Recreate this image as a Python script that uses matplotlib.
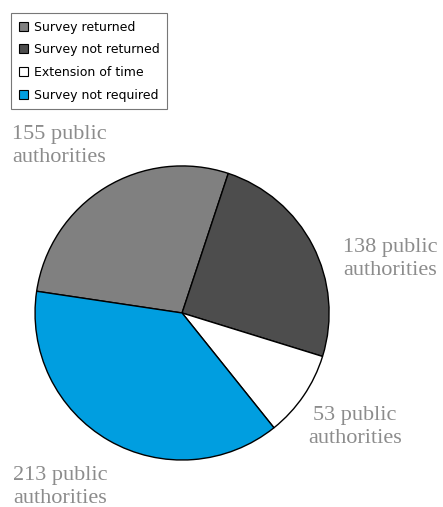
import matplotlib.pyplot as plt
from matplotlib.patches import Patch

# data
categories = ['Survey returned', 'Survey not returned', 'Extension of time', 'Survey not required']
counts = [155, 138, 53, 213]
colors = ['#808080', '#4d4d4d', '#ffffff', '#009ee0']
label_texts = ['155 public\nauthorities', '138 public\nauthorities',
               '53 public\nauthorities', '213 public\nauthorities']

fig = plt.figure(figsize=(4.43, 5.07), dpi=100)
ax = fig.add_axes([0.079, 0.0927, 0.664, 0.580])

ax.pie(counts, colors=colors, startangle=171.5, counterclock=False,
       wedgeprops=dict(edgecolor='black', linewidth=1.0))
ax.set_xlim(-1, 1)
ax.set_ylim(-1, 1)
ax.set_aspect('equal')

# slice labels, placed outside the pie
label_pos = [(59, 146), (390, 259), (355, 427), (60, 487)]
for txt, (px, py) in zip(label_texts, label_pos):
    fig.text(px / 443, 1 - py / 507, txt, ha='center', va='center',
             multialignment='center', family='Liberation Serif',
             fontsize=16, color='#8c8c8c', linespacing=1.3)

handles = [Patch(facecolor=c, edgecolor='black', linewidth=0.8) for c in colors]
leg = fig.legend(handles, categories, loc='upper left',
                 bbox_to_anchor=(11 / 443, 1 - 13 / 507),
                 fontsize=9, frameon=True, fancybox=False,
                 handlelength=0.75, handleheight=0.75, handletextpad=0.45,
                 labelspacing=0.78, borderpad=0.6, borderaxespad=0)
leg.get_frame().set_edgecolor('#555555')
leg.get_frame().set_linewidth(0.8)

plt.savefig('out.png', dpi=100)
